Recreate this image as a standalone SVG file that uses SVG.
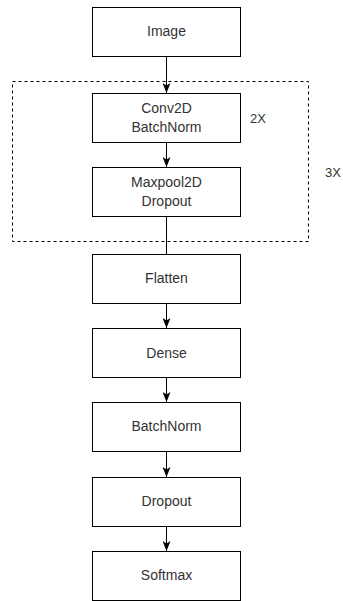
<svg xmlns="http://www.w3.org/2000/svg" width="343" height="601" viewBox="0 0 343 601">
  <style>
    .box { fill: #ffffff; stroke: #000000; stroke-width: 1; }
    .lbl { font-family: "Liberation Sans", Arial, sans-serif; font-size: 14px; fill: #333333; text-anchor: middle; }
    .note { font-family: "Liberation Sans", Arial, sans-serif; font-size: 13px; fill: #333333; }
    .edge { stroke: #000000; stroke-width: 1; fill: none; }
    .group { fill: none; stroke: #000000; stroke-width: 1; stroke-dasharray: 3 3; }
  </style>
  <defs>
    <marker id="arrow" viewBox="0 0 10 8" refX="10" refY="4" markerWidth="10" markerHeight="8" markerUnits="userSpaceOnUse" orient="auto">
      <path d="M0,0 L10,4 L0,8 L2.5,4 Z" fill="#000000"/>
    </marker>
  </defs>
  <rect width="343" height="601" fill="#ffffff"/>

  <!-- repeated convolution block -->
  <g id="conv-group">
    <rect class="group" x="12.5" y="81.5" width="296" height="160"/>
    <text class="note" x="250" y="123">2X</text>
    <text class="note" x="325" y="177">3X</text>
  </g>

  <g id="connectors">
    <line class="edge" x1="166.5" y1="56" x2="166.5" y2="93" marker-end="url(#arrow)"/>
    <line class="edge" x1="166.5" y1="142" x2="166.5" y2="167" marker-end="url(#arrow)"/>
    <line class="edge" x1="166.5" y1="217" x2="166.5" y2="254"/>
    <line class="edge" x1="166.5" y1="303" x2="166.5" y2="328" marker-end="url(#arrow)"/>
    <line class="edge" x1="166.5" y1="378" x2="166.5" y2="402" marker-end="url(#arrow)"/>
    <line class="edge" x1="166.5" y1="452" x2="166.5" y2="477" marker-end="url(#arrow)"/>
    <line class="edge" x1="166.5" y1="526" x2="166.5" y2="551" marker-end="url(#arrow)"/>
  </g>

  <g id="image">
    <rect class="box" x="92.5" y="7.5" width="148" height="49"/>
    <text class="lbl" x="166.5" y="36">Image</text>
  </g>
  <g id="conv2d">
    <rect class="box" x="92.5" y="93.5" width="148" height="49"/>
    <text class="lbl" x="166.5" y="113">Conv2D</text>
    <text class="lbl" x="166.5" y="131.5">BatchNorm</text>
  </g>
  <g id="maxpool2d">
    <rect class="box" x="92.5" y="167.5" width="148" height="49"/>
    <text class="lbl" x="166.5" y="187">Maxpool2D</text>
    <text class="lbl" x="166.5" y="205.5">Dropout</text>
  </g>
  <g id="flatten">
    <rect class="box" x="92.5" y="254.5" width="148" height="49"/>
    <text class="lbl" x="166.5" y="283">Flatten</text>
  </g>
  <g id="dense">
    <rect class="box" x="92.5" y="328.5" width="148" height="49"/>
    <text class="lbl" x="166.5" y="357.5">Dense</text>
  </g>
  <g id="batchnorm">
    <rect class="box" x="92.5" y="402.5" width="148" height="49"/>
    <text class="lbl" x="166.5" y="431">BatchNorm</text>
  </g>
  <g id="dropout">
    <rect class="box" x="92.5" y="477.5" width="148" height="49"/>
    <text class="lbl" x="166.5" y="505.5">Dropout</text>
  </g>
  <g id="softmax">
    <rect class="box" x="92.5" y="551.5" width="148" height="49"/>
    <text class="lbl" x="166.5" y="580">Softmax</text>
  </g>
</svg>
